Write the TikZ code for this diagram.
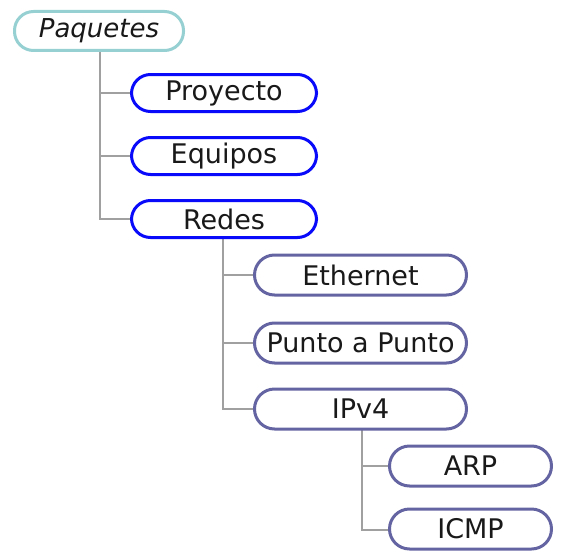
\documentclass[tikz,border=0pt]{standalone}
\usepackage{fontspec}
\setmainfont{DejaVu Sans}
\definecolor{rootline}{RGB}{150,208,210}
\definecolor{pkgblue}{RGB}{10,10,250}
\definecolor{pkgslate}{RGB}{100,100,162}
\definecolor{linkgray}{RGB}{160,160,160}
\definecolor{labeltext}{RGB}{25,25,25}
\tikzset{
  pkg/.style={draw, line width=3pt, fill=white, rounded corners=19pt,
    inner sep=0pt, text=labeltext, font=\fontsize{27}{29}\selectfont},
  rootpkg/.style={pkg, draw=rootline, minimum width=169pt, minimum height=39pt,
    font=\fontsize{26}{28}\selectfont\itshape},
  toppkg/.style={pkg, draw=pkgblue, minimum width=185pt, minimum height=37pt},
  netpkg/.style={pkg, draw=pkgslate, minimum width=212pt, minimum height=40pt, rounded corners=20pt},
  ippkg/.style={pkg, draw=pkgslate, minimum width=162pt, minimum height=40pt, rounded corners=20pt},
  link/.style={draw=linkgray, line width=2pt}
}
\begin{document}
\begin{tikzpicture}[x=1pt,y=-1pt]
  \useasboundingbox (0,0) rectangle (567,551);
  % tree links
  \coordinate (v1) at (100,51);
  \coordinate (v2) at (223,238);
  \coordinate (v3) at (362,430);
  \draw[link] (v1) |- (130,93) (v1) |- (130,156) (v1) |- (130,219);
  \draw[link] (v2) |- (253,275) (v2) |- (253,343) (v2) |- (253,409);
  \draw[link] (v3) |- (388,466) (v3) |- (388,530);
  % packages
  \node[rootpkg] (paq) at (99,31) {Paquetes};
  \node[toppkg] (pro) at (224,93) {Proyecto};
  \node[toppkg] (equ) at (224,156) {Equipos};
  \node[toppkg] (red) at (224,219) {Redes};
  \node[netpkg] (eth) at (360.5,275) {Ethernet};
  \node[netpkg] (ptp) at (360.5,343) {Punto a Punto};
  \node[netpkg] (ipv) at (360.5,409) {IPv4};
  \node[ippkg] (arp) at (470.5,466) {ARP};
  \node[ippkg] (icm) at (470.5,529) {ICMP};
\end{tikzpicture}
\end{document}
